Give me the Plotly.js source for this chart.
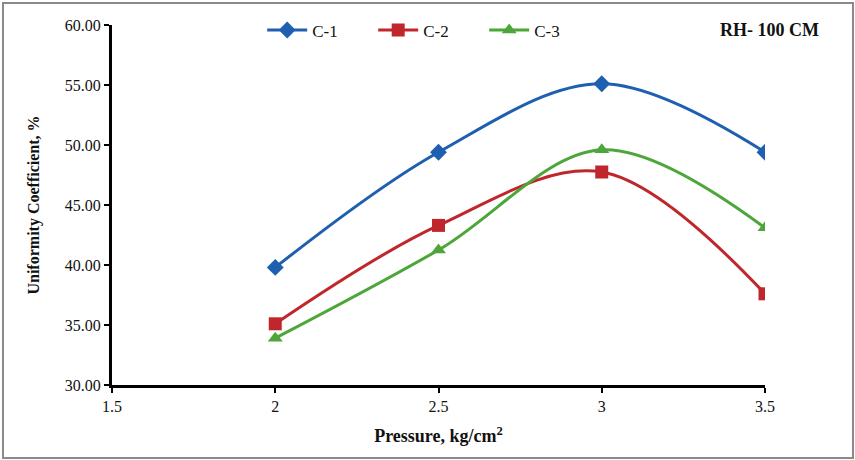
<!DOCTYPE html>
<html>
<head>
<meta charset="utf-8">
<script src="https://cdn.plot.ly/plotly-3.0.1.min.js"></script>
<style>
html,body{margin:0;padding:0;background:#fff;}
#wrap{position:relative;width:855px;height:460px;}
#chart{width:855px;height:460px;}
#frame{position:absolute;left:2px;top:2px;width:848px;height:453px;border:2px solid #8a8a8a;pointer-events:none;}
</style>
</head>
<body>
<div id="wrap"><div id="chart"></div><div id="frame"></div></div>
<script>
const pressure = [2, 2.5, 3, 3.5];
const c1 = [39.8, 49.4, 55.1, 49.4];
const c2 = [35.1, 43.3, 47.75, 37.6];
const c3 = [33.9, 41.25, 49.6, 43.1];
const seriesNames = ["C-1", "C-2", "C-3"];
const xTicks = [1.5, 2, 2.5, 3, 3.5];
const xTickText = ["1.5", "2", "2.5", "3", "3.5"];
const yTicks = [30, 35, 40, 45, 50, 55, 60];

const colors = ["#1F5FB0", "#C0272D", "#4CA63A"];
const symbols = ["diamond", "square", "triangle-up"];
const sizes = [13, 13, 13];
const ys = [c1, c2, c3];

const traces = ys.map((y, i) => ({
  x: pressure, y: y, name: seriesNames[i], type: "scatter", mode: "lines+markers",
  line: {color: colors[i], width: 3, shape: "spline", smoothing: 1},
  marker: {color: colors[i], symbol: symbols[i], size: sizes[i]}
}));

const layout = {
  width: 855, height: 460,
  margin: {l: 112, r: 90, t: 25, b: 75},
  paper_bgcolor: "#fff", plot_bgcolor: "#fff",
  font: {family: "Liberation Serif, Times New Roman, serif", size: 16, color: "#111"},
  showlegend: true,
  legend: {orientation: "h", x: 0.23, y: 0.985, xanchor: "left", yanchor: "middle",
    font: {size: 17, color: "#111"}, bgcolor: "rgba(0,0,0,0)", itemwidth: 40,
    entrywidth: 56, entrywidthmode: "pixels", tracegroupgap: 0},
  xaxis: {range: [1.5, 3.5], tickvals: xTicks, ticktext: xTickText, showgrid: false, zeroline: false,
    showline: true, linecolor: "#000", linewidth: 3, ticks: "outside", tickcolor: "#000", ticklen: 5, tickwidth: 2,
    tickfont: {size: 16}, fixedrange: true,
    title: {text: "<b>Pressure, kg/cm<sup>2</sup></b>", font: {size: 18}, standoff: 16}},
  yaxis: {range: [30, 60], tickvals: yTicks, tickformat: ".2f", showgrid: false, zeroline: false,
    showline: true, linecolor: "#000", linewidth: 3, ticks: "outside", tickcolor: "#000", ticklen: 5, tickwidth: 2,
    tickfont: {size: 16},
    title: {text: "<b>Uniformity Coefficient, %</b>", font: {size: 16}, standoff: 22}},
  annotations: [{xref: "paper", yref: "paper", x: 1.085, y: 0.985, xanchor: "right", yanchor: "middle",
    text: "<b>RH- 100 CM</b>", showarrow: false, font: {size: 18, color: "#111"}}]
};

Plotly.newPlot("chart", traces, layout, {displayModeBar: false, staticPlot: true});
</script>
</body>
</html>
